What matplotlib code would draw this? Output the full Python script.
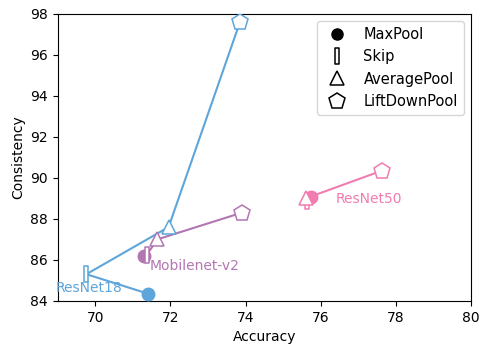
import numpy as np
import matplotlib
matplotlib.use('Agg')
import matplotlib.pyplot as plt
from matplotlib.path import Path
from matplotlib.lines import Line2D

# order of points in each series: MaxPool, Skip, AveragePool, LiftDownPool
methods = ['MaxPool', 'Skip', 'AveragePool', 'LiftDownPool']
models = ['ResNet18', 'Mobilenet-v2', 'ResNet50']

resnet18_acc = [71.4, 69.76, 71.95, 73.85]
resnet18_con = [84.35, 85.3, 87.6, 97.6]
mobilenet_acc = [71.3, 71.37, 71.65, 73.9]
mobilenet_con = [86.2, 86.25, 87.0, 88.3]
resnet50_acc = [75.73, 75.63, 75.6, 77.63]
resnet50_con = [89.05, 88.85, 89.0, 90.35]

colors = ['#5DA5DA', '#B276B2', '#F17CB0']

skip_marker = Path([(-0.28, -1), (0.28, -1), (0.28, 1), (-0.28, 1), (-0.28, -1)],
                   [Path.MOVETO, Path.LINETO, Path.LINETO, Path.LINETO, Path.CLOSEPOLY])
markers = ['o', skip_marker, '^', 'p']
sizes = [9, 11, 10, 12]

fig = plt.figure(figsize=(4.82, 3.47), dpi=100)
ax = fig.add_axes([0.12, 0.133, 0.857, 0.827])

series = [(resnet18_acc, resnet18_con), (mobilenet_acc, mobilenet_con), (resnet50_acc, resnet50_con)]
for (xs, ys), c in zip(series, colors):
    ax.plot(xs, ys, '-', color=c, lw=1.5, zorder=2)
    for i in range(4):
        if i == 0:
            ax.plot(xs[i], ys[i], marker=markers[i], ms=sizes[i], color=c, mec=c, zorder=3)
        else:
            ax.plot(xs[i], ys[i], marker=markers[i], ms=sizes[i], mfc='white', mec=c,
                    mew=1.1, zorder=3)

ax.text(68.95, 84.3, 'ResNet18', color=colors[0], fontsize=10, ha='left', va='bottom')
ax.text(71.45, 86.05, 'Mobilenet-v2', color=colors[1], fontsize=10, ha='left', va='top')
ax.text(76.4, 88.95, 'ResNet50', color=colors[2], fontsize=10, ha='left', va='center')

handles = []
for m, name, s in zip(markers, methods, sizes):
    if m == 'o':
        h = Line2D([], [], ls='none', marker=m, ms=8, color='black')
    else:
        h = Line2D([], [], ls='none', marker=m, ms=s, mfc='white', mec='black', mew=1.1)
    handles.append(h)
ax.legend(handles, methods, loc='upper right', fontsize=10.5)

ax.set_xlim(69, 80)
ax.set_ylim(84, 98)
ax.set_xticks(np.arange(70, 81, 2))
ax.set_yticks(np.arange(84, 99, 2))
ax.set_xlabel('Accuracy')
ax.set_ylabel('Consistency')

fig.savefig('out.png', dpi=100)
